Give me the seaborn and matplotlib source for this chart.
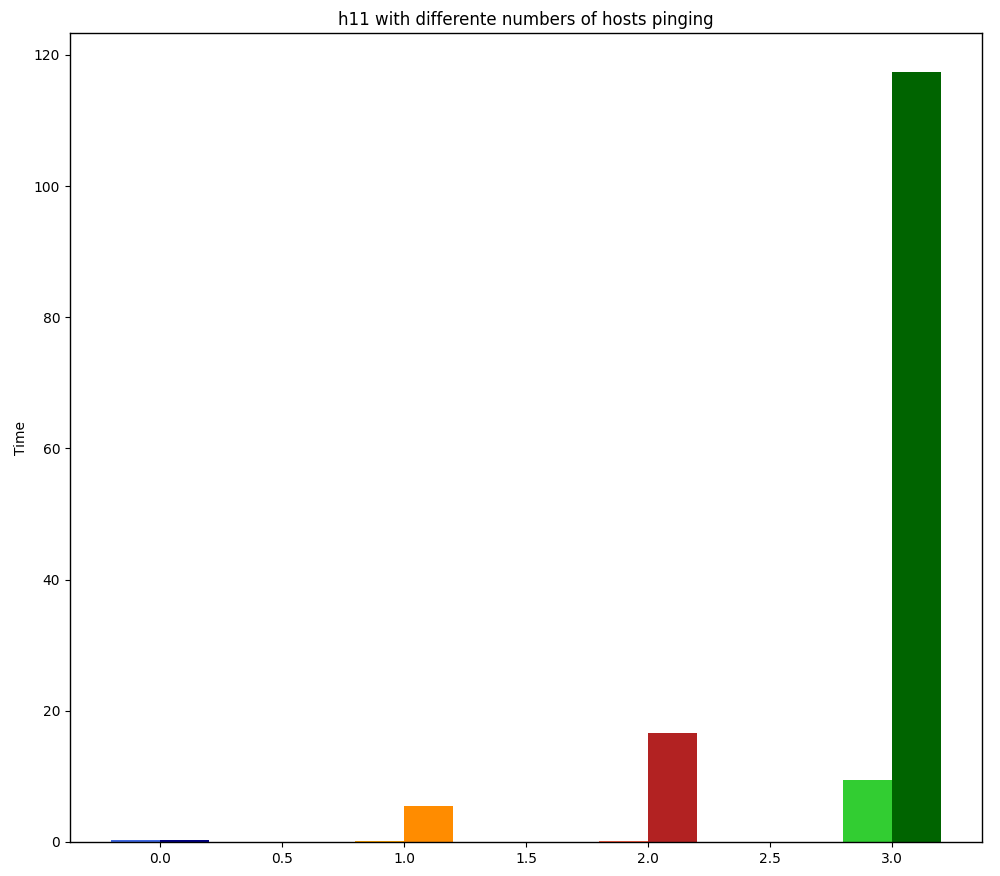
import matplotlib
matplotlib.use("Agg")
import matplotlib.pyplot as plt
import seaborn as sns
import pandas as pd

# Data
groups = [0, 1, 2, 3]
series_a_values = [0.30, 0.10, 0.12, 9.45]
series_b_values = [0.32, 5.50, 16.60, 117.4]
series_a_colors = ["royalblue", "orange", "tomato", "limegreen"]
series_b_colors = ["navy", "darkorange", "firebrick", "darkgreen"]
title = "h11 with differente numbers of hosts pinging"
ylabel = "Time"

offset = 0.1
rows = []
palette = {}
for g, va, vb, ca, cb in zip(groups, series_a_values, series_b_values,
                             series_a_colors, series_b_colors):
    rows.append({"x": g - offset, "time": va, "bar": f"a{g}"})
    rows.append({"x": g + offset, "time": vb, "bar": f"b{g}"})
    palette[f"a{g}"] = ca
    palette[f"b{g}"] = cb
df = pd.DataFrame(rows)

sns.set_style("ticks")
plt.rcParams.update({
    "axes.edgecolor": "black",
    "xtick.color": "black",
    "ytick.color": "black",
    "text.color": "black",
    "axes.labelcolor": "black",
    "font.family": ["DejaVu Sans"],
})

fig, ax = plt.subplots(figsize=(10, 8.76), dpi=100)
sns.barplot(data=df, x="x", y="time", hue="bar", palette=palette,
            native_scale=True, dodge=False, width=1.0, legend=False,
            saturation=1, errorbar=None, linewidth=0, edgecolor="none",
            ax=ax)

ax.set_xlim(-0.37, 3.37)
ax.set_ylim(0, 123.3)
ax.set_xticks([0.0, 0.5, 1.0, 1.5, 2.0, 2.5, 3.0])
ax.set_xticklabels(["0.0", "0.5", "1.0", "1.5", "2.0", "2.5", "3.0"])
ax.set_yticks([0, 20, 40, 60, 80, 100, 120])
ax.set_xlabel("")
ax.set_ylabel(ylabel)
ax.set_title(title, fontsize=12)
for s in ax.spines.values():
    s.set_visible(True)
    s.set_linewidth(1.0)

fig.subplots_adjust(left=0.07, right=0.982, bottom=0.039, top=0.962)
fig.savefig("out.png", dpi=100)
